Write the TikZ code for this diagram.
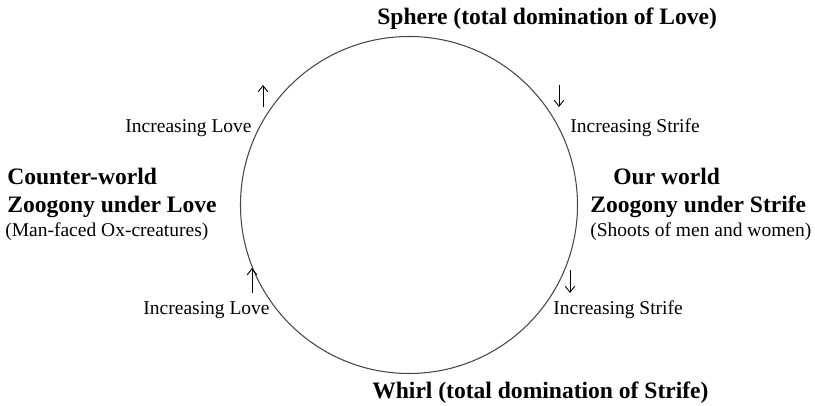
\documentclass[tikz,border=0pt]{standalone}
\usepackage{fontspec}
\setmainfont{Liberation Serif}
\usetikzlibrary{arrows.meta}
\definecolor{rimgrey}{RGB}{70,70,70}

\begin{document}
\begin{tikzpicture}[every node/.style={inner sep=0pt},
    phase/.style={font=\fontsize{13.4}{16}\selectfont\bfseries, anchor=base west},
    drift/.style={font=\fontsize{11.1}{13}\selectfont},
    turn/.style={-{Straight Barb[length=3.5pt,width=5.5pt]}, line width=0.5pt}]
  \useasboundingbox (-8.18,-4.02) rectangle (8.12,4.1);
  \node[draw=rimgrey,circle,line width=0.6pt,minimum size=6.74cm] (cosmos) at (0,0) {};
  \node[phase] (sphere)  at (-0.64, 3.6)  {Sphere (total domination of Love)};
  \node[phase] (whirl)   at (-0.74,-3.88) {Whirl (total domination of Strife)};
  \node[phase] (cworld)  at (-8.04, 0.4)  {Counter-world};
  \node[phase] (czoo)    at (-8.04,-0.16) {Zoogony under Love};
  \node[drift,anchor=base west] (ccreat) at (-8.08,-0.64) {(Man-faced Ox-creatures)};
  \node[phase] (oworld)  at ( 4.08, 0.4)  {Our world};
  \node[phase] (ozoo)    at ( 3.62,-0.16) {Zoogony under Strife};
  \node[drift,anchor=base west] (ocreat) at ( 3.62,-0.64) {(Shoots of men and women)};
  \node[drift,anchor=base east] (loveup) at (-3.14, 1.44) {Increasing Love};
  \node[drift,anchor=base west] (strup)  at ( 3.22, 1.44) {Increasing Strife};
  \node[drift,anchor=base east] (lovelo) at (-2.78,-2.2)  {Increasing Love};
  \node[drift,anchor=base west] (strlo)  at ( 2.88,-2.2)  {Increasing Strife};
  \coordinate (lu0) at (-2.92, 1.96); \coordinate (lu1) at (-2.92, 2.4);
  \coordinate (su0) at ( 3.0,  2.4);  \coordinate (su1) at ( 3.0,  1.96);
  \coordinate (ll0) at (-3.14,-1.76); \coordinate (ll1) at (-3.14,-1.26);
  \coordinate (sl0) at ( 3.22,-1.3);  \coordinate (sl1) at ( 3.22,-1.76);
  \draw[turn] (lu0) -- (lu1);
  \draw[turn] (su0) -- (su1);
  \draw[turn] (ll0) -- (ll1);
  \draw[turn] (sl0) -- (sl1);
\end{tikzpicture}
\end{document}
